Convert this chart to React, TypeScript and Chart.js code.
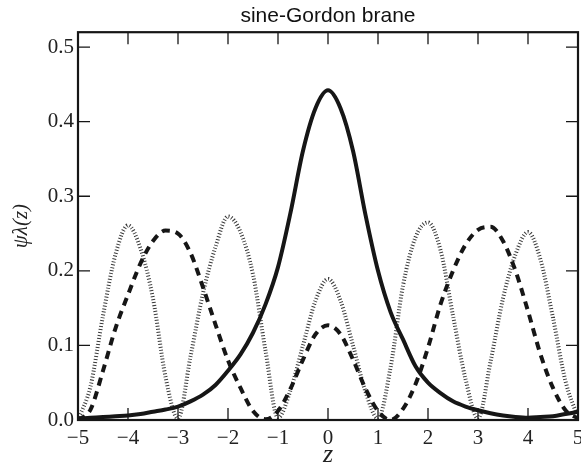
import React, { useEffect, useRef } from 'react';
import { Chart, registerables } from 'chart.js';

Chart.register(...registerables);

const zValues = [
  -5, -4.75, -4.5, -4.25, -4, -3.75, -3.5, -3.25, -3, -2.75, -2.5, -2.25, -2, -1.75, -1.5, -1.25, -1, -0.75, -0.5, -0.25,
  0, 0.25, 0.5, 0.75, 1, 1.25, 1.5, 1.75, 2, 2.25, 2.5, 2.75, 3, 3.25, 3.5, 3.75, 4, 4.25, 4.5, 4.75, 5,
];

const groundState = [
  0.002, 0.003, 0.004, 0.005, 0.006, 0.008, 0.011, 0.014, 0.018, 0.025, 0.034, 0.047, 0.066, 0.088, 0.117, 0.155, 0.205, 0.278, 0.361, 0.418,
  0.442, 0.418, 0.361, 0.275, 0.2, 0.145, 0.108, 0.072, 0.05, 0.036, 0.025, 0.018, 0.013, 0.009, 0.006, 0.004, 0.003, 0.004, 0.005, 0.008, 0.011,
];

const dashedMode = [
  0.0, 0.014, 0.066, 0.123, 0.168, 0.21, 0.24, 0.254, 0.25, 0.224, 0.178, 0.128, 0.08, 0.043, 0.012, 0.001, 0.012, 0.042, 0.081, 0.115,
  0.127, 0.115, 0.081, 0.042, 0.012, 0.0, 0.015, 0.048, 0.097, 0.155, 0.2, 0.235, 0.255, 0.259, 0.24, 0.2, 0.146, 0.088, 0.043, 0.013, 0.002,
];

const dottedMode = [
  0.0, 0.045, 0.14, 0.222, 0.261, 0.23, 0.163, 0.058, 0.002, 0.085, 0.17, 0.232, 0.273, 0.252, 0.195, 0.093, 0.003, 0.04, 0.1, 0.16,
  0.189, 0.16, 0.1, 0.038, 0.002, 0.07, 0.18, 0.245, 0.265, 0.228, 0.14, 0.055, 0.002, 0.078, 0.163, 0.222, 0.252, 0.215, 0.137, 0.052, 0.003,
];

const xTickValues = [-5, -4, -3, -2, -1, 0, 1, 2, 3, 4, 5];
const xTickLabels = ['\u22125', '\u22124', '\u22123', '\u22122', '\u22121', '0', '1', '2', '3', '4', '5'];
const yTickValues = [0, 0.1, 0.2, 0.3, 0.4, 0.5];
const yTickLabels = ['0.0', '0.1', '0.2', '0.3', '0.4', '0.5'];

const chartTitle = 'sine-Gordon brane';
const xTitle = 'z';
const yTitle = '\u03c8\u03bb(z)';

const INK = '#161616';

const framePlugin = {
  id: 'frameTicks',
  afterDatasetsDraw(chart: any) {
    const { ctx, chartArea: a, scales } = chart;
    const xs = scales.x;
    const ys = scales.y;
    const L = 12;
    ctx.save();
    ctx.strokeStyle = INK;
    ctx.lineWidth = 1.3;
    ctx.beginPath();
    xs.ticks.forEach((t: any) => {
      const px = xs.getPixelForValue(t.value);
      if (px <= a.left + 1 || px >= a.right - 1) return;
      ctx.moveTo(px, a.bottom);
      ctx.lineTo(px, a.bottom - L);
      ctx.moveTo(px, a.top);
      ctx.lineTo(px, a.top + L);
    });
    ys.ticks.forEach((t: any) => {
      const py = ys.getPixelForValue(t.value);
      if (py >= a.bottom - 1 || py <= a.top + 1) return;
      ctx.moveTo(a.left, py);
      ctx.lineTo(a.left + L, py);
      ctx.moveTo(a.right, py);
      ctx.lineTo(a.right - L, py);
    });
    ctx.stroke();
    ctx.lineWidth = 2.2;
    ctx.strokeRect(a.left, a.top, a.right - a.left, a.bottom - a.top);
    ctx.restore();
  },
};

export default function App() {
  const canvasRef = useRef<HTMLCanvasElement | null>(null);

  useEffect(() => {
    document.body.style.margin = '0';
    const canvas = canvasRef.current;
    if (!canvas) return;
    const toPoints = (vals: number[]) => zValues.map((z, i) => ({ x: z, y: vals[i] }));
    const chart = new Chart(canvas, {
      type: 'line',
      data: {
        datasets: [
          {
            label: 'ground state',
            data: toPoints(groundState),
            borderColor: INK,
            borderWidth: 4,
            pointRadius: 0,
            cubicInterpolationMode: 'monotone',
            fill: false,
          },
          {
            label: 'mode 1',
            data: toPoints(dashedMode),
            borderColor: INK,
            borderWidth: 4,
            borderDash: [8, 6],
            borderCapStyle: 'butt',
            pointRadius: 0,
            cubicInterpolationMode: 'monotone',
            fill: false,
          },
          {
            label: 'mode 2',
            data: toPoints(dottedMode),
            borderColor: '#3a3a3a',
            borderWidth: 4,
            borderDash: [1, 2],
            borderCapStyle: 'butt',
            pointRadius: 0,
            cubicInterpolationMode: 'monotone',
            fill: false,
          },
        ],
      },
      options: {
        animation: false,
        responsive: false,
        layout: { padding: { left: 0, right: 3, top: 0, bottom: 0 } },
        plugins: {
          legend: { display: false },
          tooltip: { enabled: false },
          title: {
            display: true,
            text: chartTitle,
            fullSize: false,
            color: '#111',
            font: { family: 'Liberation Sans', size: 21, weight: 'normal' },
            padding: { top: 4, bottom: 3 },
          },
        },
        scales: {
          x: {
            type: 'linear',
            min: -5,
            max: 5,
            afterBuildTicks: (s: any) => {
              s.ticks = xTickValues.map((v) => ({ value: v }));
            },
            afterFit: (s: any) => {
              s.height = 51;
              s.paddingLeft = 0;
              s.paddingRight = 0;
            },
            ticks: {
              autoSkip: false,
              maxRotation: 0,
              padding: 6,
              color: '#222',
              font: { family: 'Liberation Serif', size: 21 },
              callback: (v: any) => xTickLabels[xTickValues.indexOf(Number(v))] ?? '',
            },
            grid: { display: false, drawTicks: false },
            border: { display: false },
            title: {
              display: true,
              text: xTitle,
              color: '#222',
              font: { family: 'Liberation Serif', size: 26, style: 'italic' },
              padding: { top: 0, bottom: 0 },
            },
          },
          y: {
            type: 'linear',
            min: 0,
            max: 0.52,
            afterBuildTicks: (s: any) => {
              s.ticks = yTickValues.map((v) => ({ value: v }));
            },
            afterFit: (s: any) => {
              s.width = 78;
              s.paddingTop = 0;
              s.paddingBottom = 0;
            },
            ticks: {
              padding: 4,
              color: '#222',
              font: { family: 'Liberation Serif', size: 21 },
              callback: (v: any) => {
                const i = yTickValues.findIndex((t) => Math.abs(t - Number(v)) < 1e-9);
                return i >= 0 ? yTickLabels[i] : '';
              },
            },
            grid: { display: false, drawTicks: false },
            border: { display: false },
            title: {
              display: true,
              text: yTitle,
              color: '#222',
              font: { family: 'Liberation Serif', size: 21, style: 'italic' },
              padding: { top: 9, bottom: 0 },
            },
          },
        },
      },
      plugins: [framePlugin],
    } as any);
    return () => chart.destroy();
  }, []);

  return (
    <div style={{ width: 581, height: 471 }}>
      <canvas ref={canvasRef} width={581} height={471} />
    </div>
  );
}
